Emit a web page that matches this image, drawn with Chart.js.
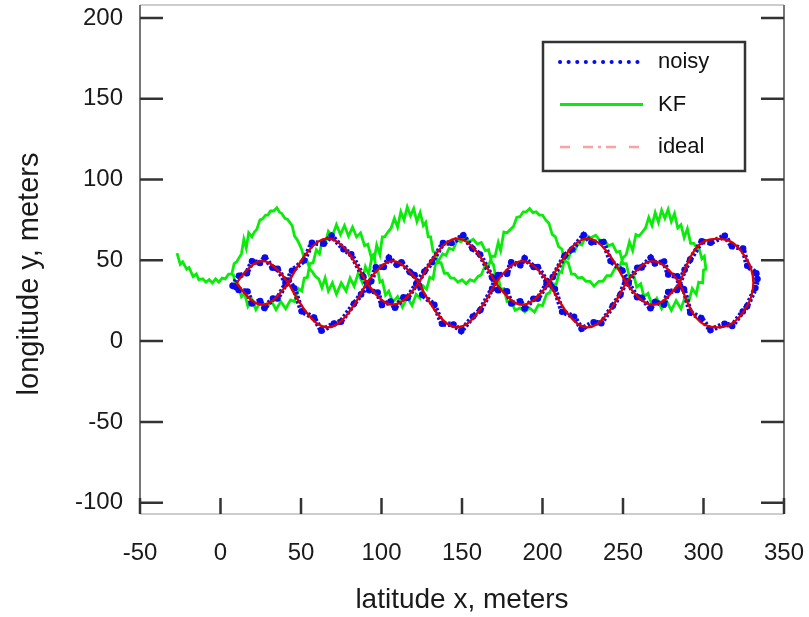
<!DOCTYPE html>
<html>
<head>
<meta charset="utf-8">
<script src="https://cdn.jsdelivr.net/npm/chart.js@4.4.1/dist/chart.umd.min.js"></script>
<style>
  body { margin: 0; background: #fff; }
  #wrap { width: 809px; height: 617px; }
</style>
</head>
<body>
<div id="wrap"><canvas id="c" width="809" height="617"></canvas></div>
<script>
// axis ticks
const xTicks = [-50, 0, 50, 100, 150, 200, 250, 300, 350]
const yTicks = [-100, -50, 0, 50, 100, 150, 200]

// ideal track (out along one branch, back along the other)
const idealX = [10, 14, 18, 22, 26, 30, 34, 38, 42,
  48.1, 54.3, 60.4, 66.5, 72.6, 78.8, 84.9, 91,
  95, 99, 103, 107, 111, 115, 119, 123,
  129, 135, 141, 147, 153, 159, 165, 171,
  175.1, 179.3, 183.4, 187.5, 191.6, 195.8, 199.9, 204,
  210, 216, 222, 228, 234, 240, 246, 252,
  256.1, 260.3, 264.4, 268.5, 272.6, 276.8, 280.9, 285,
  290, 295, 301, 309, 316, 321, 326, 329.5, 331,
  329.5, 326, 321, 316, 309, 301, 295, 290, 285,
  280.9, 276.8, 272.6, 268.5, 264.4, 260.3, 256.1, 252,
  246, 240, 234, 228, 222, 216, 210, 204,
  199.9, 195.8, 191.6, 187.5, 183.4, 179.3, 175.1, 171,
  165, 159, 153, 147, 141, 135, 129, 123,
  119, 115, 111, 107, 103, 99, 95, 91,
  84.9, 78.8, 72.6, 66.5, 60.4, 54.3, 48.1, 42,
  38, 34, 30, 26, 22, 18, 14, 10]
const idealY = [36, 41.2, 45.5, 48.5, 49.5, 48.5, 45.5, 41.2, 36,
  25.5, 16.6, 10.6, 8.5, 10.6, 16.6, 25.5, 36,
  41.2, 45.5, 48.5, 49.5, 48.5, 45.5, 41.2, 36,
  25.5, 16.6, 10.6, 8.5, 10.6, 16.6, 25.5, 36,
  41.2, 45.5, 48.5, 49.5, 48.5, 45.5, 41.2, 36,
  25.5, 16.6, 10.6, 8.5, 10.6, 16.6, 25.5, 36,
  41.2, 45.5, 48.5, 49.5, 48.5, 45.5, 41.2, 36,
  24, 15, 10, 8.5, 10, 13.5, 20, 27, 36,
  45, 52, 58.5, 62, 63.3, 62, 57, 48, 36,
  30.8, 26.5, 23.5, 22.5, 23.5, 26.5, 30.8, 36,
  46.5, 55.4, 61.4, 63.5, 61.4, 55.4, 46.5, 36,
  30.8, 26.5, 23.5, 22.5, 23.5, 26.5, 30.8, 36,
  46.5, 55.4, 61.4, 63.5, 61.4, 55.4, 46.5, 36,
  30.8, 26.5, 23.5, 22.5, 23.5, 26.5, 30.8, 36,
  46.5, 55.4, 61.4, 63.5, 61.4, 55.4, 46.5, 36,
  30.8, 26.5, 23.5, 22.5, 23.5, 26.5, 30.8, 36]

// noisy measurements
const noisyX = [7.5,
  11.5, 16.4, 19.6, 24.5, 27.6, 32.3, 35.5, 40.4, 42.3,
  45.8, 50.4, 58.1, 62.7, 70.5, 74.8, 82.9, 87.3, 91.2,
  93.6, 96.5, 101.4, 104.6, 109.5, 112.4, 117.6, 120.5, 123.4,
  125.3, 132.8, 137.6, 144.7, 149.5, 156.8, 161.4, 168.7, 170.6,
  172.4, 178.0, 180.6, 186.2, 188.9, 194.5, 197.1, 202.6, 204.5,
  207.7, 212.2, 219.6, 224.3, 231.8, 236.5, 243.7, 248.4, 251.6,
  253.4, 258.9, 261.6, 267.2, 269.8, 275.5, 278.1, 283.6, 285.4,
  287.9, 291.8, 298.6, 304.3, 313.1, 317.8, 324.4, 327.1, 332.2, 333.5,
  332.8, 327.2, 324.6, 317.7, 313.2, 304.4, 298.9, 291.7, 288.3,
  283.5, 278.1, 275.4, 269.9, 267.1, 261.6, 258.8, 253.5,
  249.6, 242.3, 237.8, 230.4, 225.6, 218.3, 213.7, 206.4,
  202.5, 197.1, 194.4, 188.9, 186.1, 180.6, 177.9, 172.4,
  168.7, 161.2, 156.5, 150.8, 143.5, 138.2, 131.4, 126.7,
  121.6, 116.3, 113.7, 108.4, 105.6, 100.3, 97.6, 92.4,
  88.7, 81.2, 76.4, 69.0, 64.1, 56.8, 51.9, 44.4,
  40.5, 35.4, 32.6, 27.3, 24.6, 19.4, 16.7, 11.3, 8.6]
const noisyY = [34.2,
  40.4, 42.0, 49.4, 48.3, 51.7, 45.4, 44.7, 36.6, 37.5,
  32.6, 18.4, 14.5, 6.4, 10.9, 12.0, 23.1, 28.9, 34.6,
  37.0, 45.6, 45.9, 51.5, 47.2, 48.8, 42.7, 40.8, 34.3,
  28.7, 22.4, 10.7, 10.3, 6.2, 15.2, 19.2, 32.4, 37.9,
  40.9, 41.7, 48.7, 47.0, 51.2, 45.9, 45.9, 37.0, 35.2,
  32.2, 18.2, 15.1, 7.6, 11.6, 11.1, 21.9, 28.7, 37.4,
  36.5, 45.4, 45.6, 51.6, 48.1, 49.2, 41.2, 40.1, 34.1,
  32.1, 17.6, 14.3, 6.8, 10.7, 9.4, 18.3, 21.6, 32.8, 38.4,
  41.9, 46.6, 57.3, 58.7, 65.1, 60.9, 61.8, 50.4, 44.1,
  31.6, 30.4, 22.6, 24.2, 20.3, 26.8, 27.2, 35.5,
  43.6, 49.6, 61.3, 61.1, 65.6, 56.7, 52.8, 39.6,
  35.1, 26.3, 26.2, 20.2, 24.7, 23.3, 30.8, 31.5,
  39.4, 53.6, 57.3, 65.5, 60.7, 60.7, 48.9, 43.0,
  35.4, 26.8, 27.1, 20.7, 24.4, 22.4, 30.0, 31.5,
  39.8, 53.7, 56.9, 65.2, 60.3, 60.8, 49.9, 43.5,
  35.3, 26.4, 26.4, 20.5, 24.8, 23.3, 30.7, 31.7, 33.9]

// Kalman filter estimate
const kfX = [-27, -25, -23.5, -21, -19.5, -17, -15, -13.5, -11, -9, -7, -5, -3, -1, 1, 3, 5, 7,
  8.5, 10, 11.5, 13, 14.5, 16, 17.5, 19.5, 21, 22.5, 24.5, 26, 28, 29.5, 31, 33, 35, 36.5, 38, 40, 41.5, 43, 44.5, 46, 47.5, 49, 50.5, 52, 53.5,
  55.5, 57, 59, 61, 63, 65, 67, 69.5, 72, 75, 78, 80.5, 83, 85.5, 88, 90, 92, 94, 95.5,
  97, 99, 100.5, 102, 104, 106, 108, 110, 112, 114, 116, 118, 120, 122, 124, 126, 127.5, 129, 130.5, 132, 133.5, 135,
  137, 139, 141, 143, 145, 147.5, 150, 152.5, 155, 157.5, 160, 162, 164.5, 166.5, 168.5,
  170.5, 172.5, 174, 176, 178, 180, 182, 184, 186, 188, 190, 192, 194, 196, 198, 200, 202, 204, 206, 208, 210, 212, 214,
  216, 218, 220, 222, 224.5, 227, 229.5, 232, 235, 237.5, 240, 242.5, 245, 247.5, 250,
  252, 254, 256, 258, 260, 262, 264, 266, 268, 270, 272, 274, 276, 278, 280, 282, 284, 286, 288, 290, 292, 294, 296, 297.5, 299, 300.5, 301.5,
  300, 299.5, 297, 295.5, 293, 291, 288.5, 286, 283, 280, 277, 274, 271, 268, 265.5, 263, 261, 258.5, 256.5, 254, 252, 250,
  248, 246, 243.5, 241, 238.5, 236, 233, 230, 227, 224.5, 222, 220, 218, 216, 214,
  212, 210.5, 208.5, 206.5, 204.5, 202.5, 200, 197.5, 195, 192, 189, 186, 183, 180.5, 178, 176, 174, 172.5, 171, 169.5, 168.5,
  166.5, 164.5, 162, 159.5, 157, 154.5, 152, 149.5, 147, 144.5, 142, 140, 138, 135,
  133.5, 132, 130, 128, 126, 124, 121.5, 119, 116, 113, 110, 107, 104.5, 102.5, 100.5, 99, 97.5, 96.5, 95.5,
  93.5, 91.5, 89.5, 87, 84.5, 82, 79.5, 77, 74.5, 72, 69.5, 67, 65, 63, 61.5, 59.5, 57.5, 55.5,
  54, 52, 50.5, 48.5, 46, 43.5, 40.5, 37.5, 34.5, 31.5, 28, 25, 22, 19.5, 17, 15, 13, 11, 9.5, 8, 7]
const kfY = [54.5, 47.5, 49, 44.5, 45.5, 40, 41.5, 38, 38.5, 36.5, 38, 36, 38.5, 36.5, 39, 38.5, 41.5, 41.5,
  48, 49, 51.5, 54, 63, 57.5, 67, 64.5, 67.5, 69, 75, 75.5, 78, 78, 80.5, 80.5, 82.5, 80, 79, 76, 75.5, 73.5, 71.5, 65, 63, 60, 56.5, 51, 50.5,
  44.5, 43, 40, 38.5, 33, 39, 31, 36, 29, 36, 31, 39, 34, 42, 36.5, 46, 41.5, 51.5, 50.5,
  59.5, 53.5, 64.5, 64.5, 67.5, 70, 76, 70.5, 80, 75, 83, 77.5, 82, 74, 79.5, 71.5, 73.5, 64.5, 64.5, 55.5, 55, 48.5,
  48.5, 42, 42, 39, 39, 36.5, 38, 35.5, 38, 37, 40, 41, 47, 46.5, 52.5,
  52.5, 61, 56, 67.5, 67, 69, 71, 76.5, 77, 80, 80, 82, 79.5, 80, 78, 78, 75, 73, 66, 64.5, 58.5, 57, 49.5,
  48.5, 41.5, 41.5, 39, 39.5, 37, 37, 34, 37, 37, 40.5, 40.5, 45, 45, 51.5,
  53.5, 61.5, 56, 66, 65, 67.5, 70, 76.5, 71.5, 79.5, 73.5, 81, 76, 81.5, 74, 79, 70, 72, 64, 69.5, 60.5, 60.5, 57.5, 56.5, 51, 52.5, 44.5,
  44, 36, 36.5, 29, 32.5, 25, 27, 20, 25, 19, 25, 20, 26.5, 22.5, 29.5, 27.5, 35.5, 33.5, 41.5, 39.5, 48, 48,
  55.5, 55, 60, 59, 62.5, 62, 65.5, 64, 65.5, 59.5, 60.5, 55.5, 56.5, 51, 52,
  42.5, 43, 35, 35.5, 30, 29, 22, 22.5, 18, 20.5, 18, 20.5, 19, 24.5, 24.5, 32.5, 32, 40, 39.5, 47.5, 48.5,
  56.5, 56, 61, 60, 63, 61.5, 64.5, 61.5, 62.5, 56.5, 57.5, 53, 54, 49,
  47.5, 38.5, 39.5, 32, 34, 26.5, 29, 22, 27, 21, 27.5, 24, 31, 28.5, 37.5, 36.5, 45.5, 44.5, 54,
  52.5, 60, 59, 67, 64.5, 70.5, 65, 71.5, 66, 72, 65, 68, 60, 61.5, 54, 56.5, 48.5, 48,
  39.5, 39, 31, 32.5, 24.5, 25.5, 20, 24.5, 19.5, 25, 19.5, 24.5, 19.5, 25.5, 21.5, 29.5, 27.5, 35, 33.5, 41, 41]

const pts = (xs, ys) => xs.map((x, i) => ({ x: x, y: ys[i] }))

const FONT = '"Liberation Sans", Arial, sans-serif'

// box frame with inward ticks, like the original plot
const framePlugin = {
  id: 'frame',
  afterDraw (chart) {
    const { ctx, chartArea: a, scales: { x, y } } = chart
    ctx.save()
    ctx.lineWidth = 1.5
    ctx.strokeStyle = '#bdbdbd'
    ctx.beginPath()
    ctx.moveTo(a.left, a.top); ctx.lineTo(a.right, a.top)
    ctx.moveTo(a.left, a.bottom); ctx.lineTo(a.right, a.bottom)
    ctx.stroke()
    ctx.strokeStyle = '#777'
    ctx.lineWidth = 2
    ctx.beginPath()
    ctx.moveTo(a.left, a.top); ctx.lineTo(a.left, a.bottom)
    ctx.moveTo(a.right, a.top); ctx.lineTo(a.right, a.bottom)
    ctx.stroke()
    ctx.strokeStyle = '#333'
    ctx.lineWidth = 2.5
    ctx.beginPath()
    xTicks.forEach(v => {
      const px = x.getPixelForValue(v)
      ctx.moveTo(px, a.bottom); ctx.lineTo(px, a.bottom - 16)
    })
    yTicks.forEach(v => {
      const py = y.getPixelForValue(v)
      ctx.moveTo(a.left, py); ctx.lineTo(a.left + 23, py)
      ctx.moveTo(a.right, py); ctx.lineTo(a.right - 23, py)
    })
    ctx.stroke()
    // y axis title
    ctx.translate(30, 274)
    ctx.rotate(-Math.PI / 2)
    ctx.fillStyle = '#1a1a1a'
    ctx.font = '29px ' + FONT
    ctx.textAlign = 'center'
    ctx.textBaseline = 'middle'
    ctx.fillText('longitude y, meters', 0, 0)
    ctx.restore()
  }
}

// boxed legend in the upper right
const boxLegend = {
  id: 'boxLegend',
  afterDraw (chart) {
    const ctx = chart.ctx
    ctx.save()
    ctx.strokeStyle = '#333'
    ctx.lineWidth = 2.5
    ctx.strokeRect(543, 42, 202, 129)
    chart.data.datasets.forEach((ds, i) => {
      const yy = 62 + i * 42.5
      ctx.beginPath()
      ctx.setLineDash(ds.legendDash)
      ctx.lineCap = ds.legendCap
      ctx.strokeStyle = ds.legendColor
      ctx.lineWidth = ds.legendWidth
      ctx.moveTo(560, yy); ctx.lineTo(643, yy)
      ctx.stroke()
      ctx.setLineDash([])
      ctx.fillStyle = '#111'
      ctx.font = '22px ' + FONT
      ctx.textBaseline = 'middle'
      ctx.fillText(ds.label, 658, yy)
    })
    ctx.restore()
  }
}

new Chart(document.getElementById('c'), {
  type: 'scatter',
  data: {
    datasets: [
      {
        label: 'noisy',
        data: pts(noisyX, noisyY),
        showLine: true,
        borderColor: 'rgb(10,10,235)',
        borderWidth: 5.5,
        borderDash: [2.5, 2],
        pointRadius: 3.3,
        pointBackgroundColor: 'rgb(10,10,235)',
        pointBorderWidth: 0,
        order: 2,
        legendDash: [0.1, 8.5], legendCap: 'round', legendColor: 'rgb(10,10,235)', legendWidth: 4
      },
      {
        label: 'KF',
        data: pts(kfX, kfY),
        showLine: true,
        borderColor: 'rgb(10,235,10)',
        borderWidth: 2.8,
        pointRadius: 0,
        order: 3,
        legendDash: [], legendCap: 'butt', legendColor: 'rgb(10,235,10)', legendWidth: 3
      },
      {
        label: 'ideal',
        data: pts(idealX, idealY),
        showLine: true,
        borderColor: 'rgb(220,0,0)',
        borderWidth: 2.3,
        tension: 0.4,
        pointRadius: 0,
        order: 1,
        legendDash: [10, 13, 10, 5, 3, 5], legendCap: 'butt', legendColor: 'rgba(255,110,110,0.65)', legendWidth: 2.5
      }
    ]
  },
  options: {
    responsive: false,
    animation: false,
    layout: { autoPadding: false, padding: { top: 5, right: 25, left: 0, bottom: 0 } },
    plugins: { legend: { display: false }, tooltip: { enabled: false } },
    scales: {
      x: {
        type: 'linear',
        min: -50,
        max: 350,
        afterBuildTicks (s) { s.ticks = xTicks.map(v => ({ value: v })) },
        afterFit (s) { s.height = 103; s.paddingLeft = 0; s.paddingRight = 0 },
        grid: { display: false, drawTicks: false },
        border: { display: false },
        ticks: { padding: 25, color: '#1a1a1a', font: { family: FONT, size: 24 }, maxRotation: 0, autoSkip: false },
        title: { display: true, text: 'latitude x, meters', color: '#1a1a1a', font: { family: FONT, size: 28 }, padding: 0 }
      },
      y: {
        type: 'linear',
        min: -107,
        max: 208,
        afterBuildTicks (s) { s.ticks = yTicks.map(v => ({ value: v })) },
        afterFit (s) { s.width = 140; s.paddingTop = 0; s.paddingBottom = 0 },
        grid: { display: false, drawTicks: false },
        border: { display: false },
        ticks: { padding: 17, color: '#1a1a1a', font: { family: FONT, size: 24 } },
        title: { display: false }
      }
    }
  },
  plugins: [framePlugin, boxLegend]
})
</script>
</body>
</html>
